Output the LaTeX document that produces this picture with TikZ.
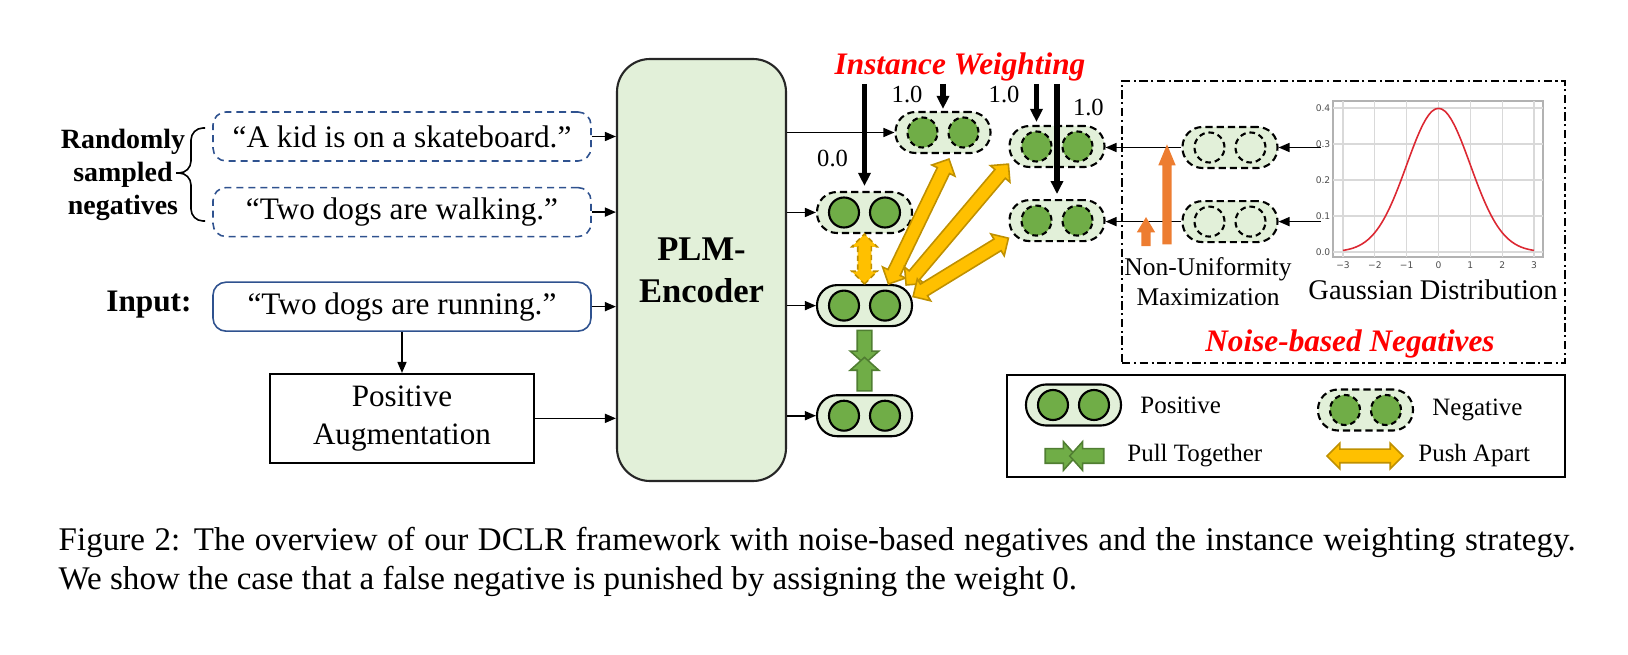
\documentclass[tikz,border=0pt]{standalone}
\usepackage{fontspec}
\setmainfont{Liberation Serif}
\newfontfamily\tickfont{DejaVu Sans}
\usetikzlibrary{arrows.meta,positioning,calc,shapes.arrows}

\definecolor{boxblue}{RGB}{47,82,143}
\definecolor{capfill}{RGB}{226,240,217}
\definecolor{dotgreen}{RGB}{112,173,71}
\definecolor{darkgreen}{RGB}{80,126,50}
\definecolor{pushyellow}{RGB}{255,192,0}
\definecolor{pushedge}{RGB}{191,144,0}
\definecolor{nuorange}{RGB}{237,125,49}
\definecolor{curvered}{RGB}{220,40,50}

\newcommand{\fatarrow}[3]{%
  \path let \p1=($(#3)-(#2)$) in
    node[#1, minimum height={veclen(\x1,\y1)}, rotate={atan2(\y1,\x1)}] at ($(#2)!0.5!(#3)$) {};}

\begin{document}
\begin{tikzpicture}[
    x=0.1mm, y=-0.1mm,
    every node/.style={font=\fontsize{8.9}{10.7}\selectfont},
    sentence/.style={draw=boxblue, line width=0.45pt, rounded corners=1.3mm, minimum width=37.8mm, minimum height=4.9mm, inner sep=0pt},
    negsentence/.style={sentence, dash pattern=on 2pt off 1.4pt},
    augbox/.style={draw, line width=0.6pt, minimum width=26.4mm, minimum height=8mm, align=center, font=\fontsize{8.85}{10.8}\selectfont},
    plmbox/.style={draw=black!85, fill=capfill, line width=0.6pt, rounded corners=3.3mm, minimum width=16.9mm, minimum height=42.2mm, align=center, font=\fontsize{9.85}{12}\selectfont\bfseries},
    capsule/.style={draw, fill=capfill, line width=0.6pt, rounded corners=2mm, minimum width=9.5mm, minimum height=4.1mm, inner sep=0pt},
    posrep/.style={capsule, path picture={\foreach \s in {-1,1} \draw[solid, fill=dotgreen, line width=0.6pt] ([xshift={\s*2.05mm}]path picture bounding box.center) circle (1.5mm);}},
    falseneg/.style={posrep, dash pattern=on 2pt off 1.2pt},
    negrep/.style={capsule, dash pattern=on 2pt off 1.2pt, path picture={\foreach \s in {-1,1} \draw[dash pattern=on 1.6pt off 1.1pt, fill=dotgreen, line width=0.6pt] ([xshift={\s*2.05mm}]path picture bounding box.center) circle (1.5mm);}},
    noiserep/.style={capsule, dash pattern=on 2pt off 1.2pt, path picture={\foreach \s in {-1,1} \draw[dash pattern=on 1.6pt off 1.1pt, line width=0.6pt] ([xshift={\s*2.05mm}]path picture bounding box.center) circle (1.5mm);}},
    conn/.style={-{Triangle[length=1.1mm, width=0.9mm]}, line width=0.45pt},
    weight/.style={-{Triangle[length=1.3mm, width=1.2mm]}, line width=1.6pt},
    weightlbl/.style={font=\fontsize{7}{8}\selectfont},
    titlered/.style={text=red, font=\fontsize{8.9}{10.7}\selectfont\bfseries\itshape},
    legtext/.style={font=\fontsize{7.1}{8.5}\selectfont},
    pushapart/.style={double arrow, draw=pushedge, fill=pushyellow, line width=0.45pt, inner xsep=0pt, inner ysep=0.6mm, double arrow head extend=0.6mm, double arrow tip angle=90},
    pulltogether/.style={single arrow, draw=darkgreen, fill=dotgreen, line width=0.45pt, inner xsep=0pt, inner ysep=0.65mm, single arrow head extend=0.7mm, single arrow tip angle=96},
    nuarrow/.style={single arrow, fill=nuorange, inner xsep=0pt, inner ysep=0.4mm, single arrow head extend=0.4mm},
    dashdotbox/.style={draw, line width=0.6pt, dash pattern=on 2.4pt off 1pt on 0.6pt off 1pt, minimum width=44.3mm, minimum height=28.2mm, inner sep=0pt},
    gridline/.style={draw=black!15, line width=0.3pt},
    ticklbl/.style={font=\tickfont\fontsize{2.6}{3}\selectfont, text=black!70, inner sep=0pt},
    caption/.style={anchor=base west, inner sep=0pt, font=\fontsize{9.4}{11.1}\selectfont}
]
\useasboundingbox (0,0) rectangle (1628,655);

\node[negsentence] (negsent1) at (402,136.5) {“A kid is on a skateboard.”};
\node[negsentence, below=2.5mm of negsent1] (negsent2) {“Two dogs are walking.”};
\node[sentence, below=4.4mm of negsent2] (inputsent) {“Two dogs are running.”};
\node[augbox, below=4.1mm of inputsent] (posaug) {Positive\\Augmentation};
\node[font=\fontsize{7.94}{9.5}\selectfont\bfseries, align=center] (randneg) at (123,175) {Randomly\\sampled\\negatives};
\node[font=\fontsize{8.9}{10.7}\selectfont\bfseries, anchor=base] (inputlbl) at (149,312) {Input:};
\draw[line width=0.45pt, rounded corners=1.2mm] (205,128) -| (191,173) -- (176,173);
\draw[line width=0.45pt, rounded corners=1.2mm] (176,173) -- (191,173) |- (205,221);

\node[plmbox] (plm) at (701.5,270) {PLM-\\Encoder};
\draw[conn] (negsent1.east) -- (negsent1 -| plm.west);
\draw[conn] (negsent2.east) -- (negsent2 -| plm.west);
\draw[conn] (inputsent.east) -- (inputsent -| plm.west);
\draw[conn] (posaug.east) -- (posaug -| plm.west);
\draw[conn] (inputsent.south) -- (posaug.north);

\node[falseneg] (neg0) at (864.5,212.5) {};
\node[posrep, below=5mm of neg0] (pos1) {};
\node[posrep, below=6.7mm of pos1] (pos2) {};
\node[negrep] (negA) at (943,132.5) {};
\node[negrep] (negB) at (1057,146.5) {};
\node[negrep, below=3.1mm of negB] (negC) {};
\draw[conn] (plm.east |- negA) -- (negA.west);
\draw[conn] (plm.east |- neg0) -- (neg0.west);
\draw[conn] (plm.east |- pos1) -- (pos1.west);
\draw[conn] (plm.east |- pos2) -- (pos2.west);

\node[dashdotbox] (noisebox) at (1343.5,222) {};
\node[noiserep] (noiseA) at (1230,147.5) {};
\node[noiserep, below=3.1mm of noiseA] (noiseB) {};
\node[draw=black!30, line width=0.5pt, minimum width=21mm, minimum height=15.6mm, inner sep=0pt] (gauss) at (1438,179) {};
\foreach \t in {-3,...,3}
  \draw[gridline] ({1438.5+31.83*\t},101) -- ({1438.5+31.83*\t},257);
\foreach \v in {0,...,4}
  \draw[gridline] (1333,{252-36*\v}) -- (1543,{252-36*\v});
\foreach \i/\t/\lab in {1/-3/−3,2/-2/−2,3/-1/−1,4/0/0,5/1/1,6/2/2,7/3/3}
  \node[ticklbl] (xtick\i) at ({1438.5+31.83*\t},265) {\lab};
\foreach \v/\lab in {0/0.0,1/0.1,2/0.2,3/0.3,4/0.4}
  \node[ticklbl, anchor=east] (ytick\v) at (1331,{252-36*\v}) {\lab};
\draw[curvered, line width=0.45pt] plot[domain=-3:3, samples=61, smooth] ({1438.5+31.83*\x},{252-360*exp(-0.5*\x*\x)/sqrt(2*pi)});
\node[font=\fontsize{8.1}{9.7}\selectfont, anchor=base] (gausslbl) at (1433,300) {Gaussian Distribution};
\node[font=\fontsize{7.25}{8.5}\selectfont, align=center] (numax) at (1208,282) {Non-Uniformity\\Maximization};
\node[titlered, anchor=base] (nbtitle) at (1350,352) {Noise-based Negatives};

\coordinate (gin) at ([xshift=-1.1mm]gauss.west);
\draw[conn] (gin |- noiseA) -- (noiseA.east);
\draw[conn] (gin |- noiseB) -- (noiseB.east);
\draw[conn] (noiseA.west) -- (noiseA.west -| negB.east);
\draw[conn] (noiseB.west) -- (noiseB.west -| negC.east);
\coordinate (nubigfoot) at (1167,250);
\coordinate (nubigtip) at (1167,150);
\coordinate (nusmallfoot) at (1146,250);
\coordinate (nusmalltip) at (1146,221);
\fatarrow{nuarrow, single arrow tip angle=45}{nubigfoot}{nubigtip}
\fatarrow{nuarrow, single arrow tip angle=62, single arrow head extend=0.45mm}{nusmallfoot}{nusmalltip}

\node[titlered, anchor=base] (iwtitle) at (960,75) {Instance Weighting};
\coordinate (wtop) at (0,84);
\coordinate (negBl) at ([xshift=-2.05mm]negB.north);
\draw[weight, shorten >=0.5mm] (neg0.north |- wtop) -- node[weightlbl, pos=0.7, left=0.2mm] (w0lbl) {0.0} (neg0.north);
\draw[weight, shorten >=0.2mm] (negA.north |- wtop) -- node[weightlbl, pos=0.39, left=0.6mm] (wAlbl) {1.0} (negA.north);
\draw[weight, shorten >=0.3mm] (negBl |- wtop) -- node[weightlbl, pos=0.26, left=0.25mm] (wBlbl) {1.0} (negBl);
\draw[weight, shorten >=0.5mm] (negC.north |- wtop) -- node[weightlbl, pos=0.2, right=0.15mm] (wClbl) {1.0} (negC.north);

\coordinate (pullmid) at ($(pos1.south)!0.5!(pos2.north)$);
\fatarrow{pulltogether}{pos1.south}{pullmid}
\fatarrow{pulltogether}{pos2.north}{pullmid}
\fatarrow{pushapart, dash pattern=on 1.5pt off 1pt}{neg0.south}{pos1.north}
\coordinate (ya1) at ([xshift=2.4mm]pos1.north);
\coordinate (yb1) at ([shift={(6,5)}]negA.south);
\coordinate (ya2) at ([shift={(-7,1)}]pos1.north east);
\coordinate (yb2) at ([shift={(0,-4)}]negB.south west);
\coordinate (ya3) at ([shift={(0,-9)}]pos1.east);
\coordinate (yb3) at ([shift={(0,-4)}]negC.south west);
\fatarrow{pushapart}{ya1}{yb1}
\fatarrow{pushapart}{ya2}{yb2}
\fatarrow{pushapart}{ya3}{yb3}

\node[draw, line width=0.7pt, minimum width=55.8mm, minimum height=10.2mm, inner sep=0pt] (legend) at (1286,426) {};
\node[posrep] (legpos) at (1073.5,405) {};
\node[legtext, right=0.6mm of legpos] (legposlbl) {Positive};
\node[negrep] (legneg) at (1365.5,410) {};
\node[legtext, right=0.6mm of legneg] (legneglbl) {Negative};
\coordinate (pullL) at (1042,456);
\coordinate (pullC) at (1073,456);
\coordinate (pullR) at (1107,456);
\fatarrow{pulltogether}{pullL}{pullC}
\fatarrow{pulltogether}{pullR}{pullC}
\node[legtext, right=0.8mm of pullR] (legpulllbl) {Pull Together};
\coordinate (pushL) at (1327,456);
\coordinate (pushR) at (1403,456);
\fatarrow{pushapart}{pushL}{pushR}
\node[legtext, right=0.3mm of pushR] (legpushlbl) {Push Apart};

\node[caption] (capline1) at (58,551) {\makebox[151.7mm][s]{Figure 2: The overview of our DCLR framework with noise-based negatives and the instance weighting strategy.}};
\node[caption] (capline2) at (58,590) {We show the case that a false negative is punished by assigning the weight 0.};
\end{tikzpicture}
\end{document}
